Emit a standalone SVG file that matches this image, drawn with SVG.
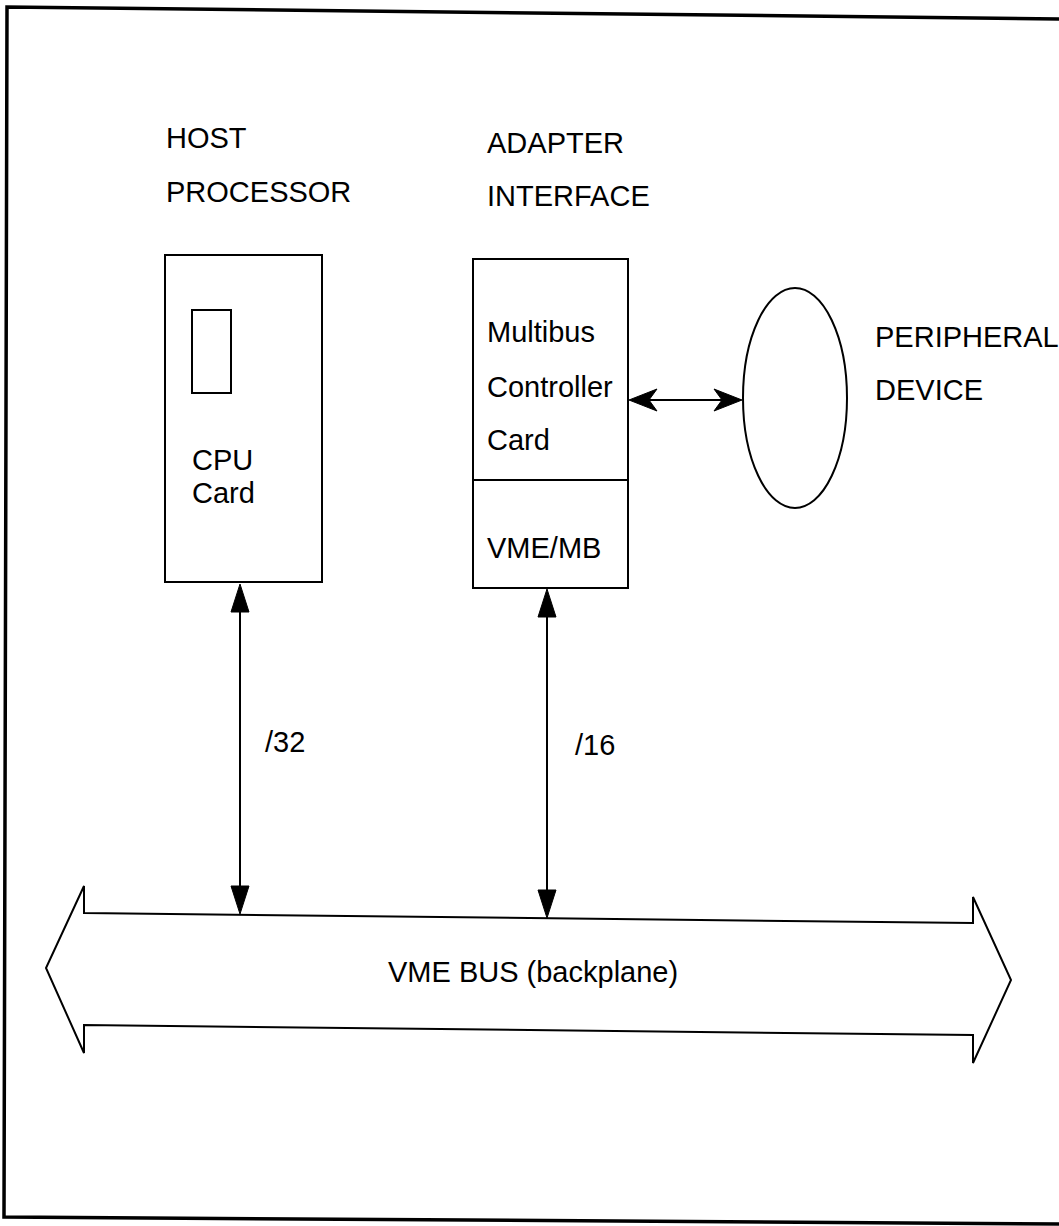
<svg xmlns="http://www.w3.org/2000/svg" width="1059" height="1226" viewBox="0 0 1059 1226">
<style>
  .ln{fill:none;stroke:#000;stroke-width:2}
  .frame{fill:none;stroke:#000;stroke-width:3.5}
  .t{font-family:"Liberation Sans",Arial,sans-serif;font-size:29px;fill:#000}
  .ah{fill:#000;stroke:#000;stroke-width:1}
</style>
<rect width="1059" height="1226" fill="#fff"/>
<g id="frame">
  <polyline class="frame" points="1065,19 7,7 4,1217 1065,1224"/>
</g>
<g id="host-label">
  <text class="t" x="166" y="148">HOST</text>
  <text class="t" x="166" y="202">PROCESSOR</text>
</g>
<g id="adapter-label">
  <text class="t" x="487" y="153">ADAPTER</text>
  <text class="t" x="487" y="206">INTERFACE</text>
</g>
<g id="cpu-card">
  <rect class="ln" x="165" y="255" width="157" height="327"/>
  <rect class="ln" x="192" y="310" width="39" height="83"/>
  <text class="t" x="192" y="470">CPU</text>
  <text class="t" x="192" y="503">Card</text>
</g>
<g id="adapter-card">
  <rect class="ln" x="473" y="259" width="155" height="329"/>
  <line class="ln" x1="473" y1="480" x2="628" y2="480"/>
  <text class="t" x="487" y="342">Multibus</text>
  <text class="t" x="487" y="397">Controller</text>
  <text class="t" x="487" y="450">Card</text>
  <text class="t" x="487" y="558">VME/MB</text>
</g>
<g id="peripheral">
  <ellipse class="ln" cx="795" cy="398" rx="52" ry="110"/>
  <text class="t" x="875" y="347">PERIPHERAL</text>
  <text class="t" x="875" y="400">DEVICE</text>
</g>
<g id="vme-bus">
  <path class="ln" d="M84,913 L973,923 L973,897 L1011,980 L973,1063 L973,1035 L84,1025 L84,1053 L46,968 L84,886 Z"/>
  <text class="t" x="388" y="982">VME BUS (backplane)</text>
</g>
<g id="connectors">
  <line class="ln" x1="240" y1="600" x2="240" y2="898"/>
  <path class="ah" d="M240,584 L249,612 L231,612 Z"/>
  <path class="ah" d="M240,914 L249,886 L231,886 Z"/>
  <line class="ln" x1="547" y1="604" x2="547" y2="902"/>
  <path class="ah" d="M547,589 L556,617 L538,617 Z"/>
  <path class="ah" d="M547,918 L556,890 L538,890 Z"/>
  <line class="ln" x1="640" y1="400" x2="730" y2="400"/>
  <path class="ah" d="M629,400 L657,389 L649,400 L657,411 Z"/>
  <path class="ah" d="M742,400 L714,389 L722,400 L714,411 Z"/>
  <text class="t" x="265" y="752">/32</text>
  <text class="t" x="575" y="755">/16</text>
</g>
</svg>
